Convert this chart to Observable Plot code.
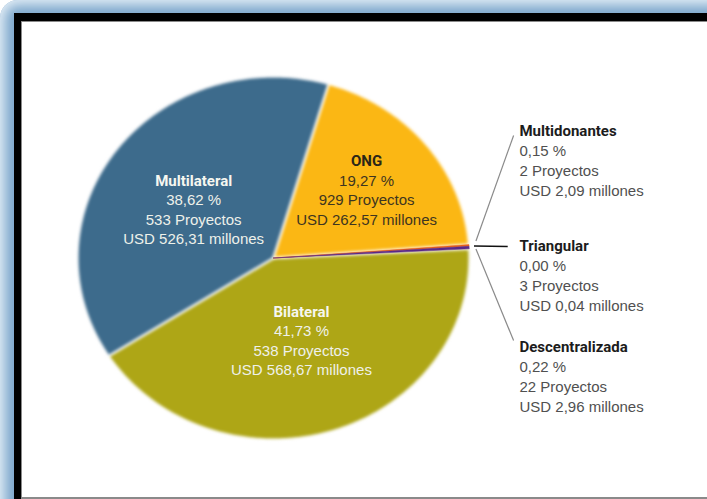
<!DOCTYPE html>
<html><head><meta charset="utf-8">
<script src="https://cdn.jsdelivr.net/npm/d3@7"></script>
<script src="https://cdn.jsdelivr.net/npm/@observablehq/plot@0.6"></script>
<style>
html,body{margin:0;padding:0;width:707px;height:499px;overflow:hidden;background:#fff}
#page{position:relative;width:707px;height:499px;overflow:hidden}
#blue{position:absolute;left:0;top:0;width:760px;height:560px;border-radius:18px;background:#7ea8cc;box-shadow:inset 0 0 12px 5px #e2edf6}
#black{position:absolute;left:14px;top:13px;width:760px;height:560px;background:#000}
#white{position:absolute;left:21px;top:21px;width:720px;height:475px;background:#fff;border-left:1px solid #8a8a8a;border-top:1px solid #8a8a8a;border-bottom:2px solid #8a8a8a}
#chart{position:absolute;left:22px;top:22px}
</style>
</head><body>
<div id="page"><div id="blue"></div><div id="black"></div><div id="white"></div><div id="chart"></div></div>
<script>
const categories = ["Bilateral", "Multilateral", "ONG", "Multidonantes", "Triangular", "Descentralizada"];
const percentages = [41.73, 38.62, 19.27, 0.15, 0.00, 0.22];
const projects = [538, 533, 929, 2, 3, 22];
const amounts = [568.67, 526.31, 262.57, 2.09, 0.04, 2.96];
const colors = ["#aea616", "#3d6b8c", "#fbb714", "#e8631c", "#222222", "#5a2a88"];

const rad = d => d * Math.PI / 180;
const startDeg = 87.1;
const pt = (a, r = 1) => ({x: r * Math.sin(a), y: -r * Math.cos(a)});
const fmt = v => v.toFixed(2).replace(".", ",");

const records = categories.map((c, i) => ({cat: c, pct: percentages[i], proj: projects[i], usd: amounts[i]}));
const arcs = d3.pie().sort(null).value(d => d.pct)
  .startAngle(rad(startDeg)).endAngle(rad(startDeg + 360))(records);

function slicePoints(list) {
  const out = [];
  for (const a of list) {
    if (a.endAngle - a.startAngle <= 0) continue;
    const n = Math.max(2, Math.ceil((a.endAngle - a.startAngle) / rad(0.5)));
    out.push({cat: a.data.cat, ...pt(0, 0)});
    for (let k = 0; k <= n; k++) {
      const ang = a.startAngle + (a.endAngle - a.startAngle) * k / n;
      out.push({cat: a.data.cat, ...pt(ang)});
    }
    out.push({cat: a.data.cat, ...pt(0, 0)});
  }
  return out;
}
const bigArcs = arcs.filter(a => a.data.pct >= 5);
const smallArcs = arcs.filter(a => a.data.pct < 5);
const bigPts = slicePoints(bigArcs);
const smallPts = slicePoints(smallArcs);

const linesOf = d => [d.cat, fmt(d.pct) + " %", d.proj + " Proyectos", "USD " + fmt(d.usd) + " millones"];

// label placement (layout): angular nudge (deg) and radius per slice rank
const nudge = [0.5, -4, 0.9];
const labelR = [0.48, 0.485, 0.603];
const inner = bigArcs.map((a, i) => {
  const mid = (a.startAngle + a.endAngle) / 2 + rad(nudge[i]);
  return {cat: a.data.cat, lines: linesOf(a.data), ...pt(mid, labelR[i])};
});
const innerLight = inner.filter(d => d.cat !== "ONG");
const innerDark = inner.filter(d => d.cat === "ONG");

const outsideX = 1.255;
const outsideY = [-0.697, -0.063, 0.493];
const outer = categories.slice(3).map((c, i) => {
  const d = records[3 + i];
  return {cat: c, lines: linesOf(d), x: outsideX, y: outsideY[i]};
});
const anchorA = d3.mean(smallArcs, a => (a.startAngle + a.endAngle) / 2);
const anchor = pt(anchorA, 1.035);
const startDy = [-0.028, 0, 0.016];
const endDy = [0.022, 0, -0.038];
const leaders = outer.map((d, i) => ({
  cat: d.cat,
  x1: i === 1 ? anchor.x - 0.01 : anchor.x, y1: anchor.y + startDy[i],
  x2: i === 1 ? d.x - 0.06 : d.x - 0.03, y2: d.y + endDy[i]
}));

const W = 685, H = 475;
const cx = 251, cy = 235.5, rx = 196, ry = 181.5;
const titleFont = "Roboto,'DejaVu Sans Condensed',sans-serif";
const bodyFont = "'Liberation Sans',Arial,sans-serif";

const textMarks = (data, fills, step, outside) => [0, 1, 2, 3].map(i => Plot.text(data, {
  x: "x", y: "y", text: d => d.lines[i],
  dy: outside ? i * step : (i - 1.5) * step,
  textAnchor: outside ? "start" : "middle",
  fill: i === 0 ? fills[0] : fills[1],
  fontFamily: i === 0 ? titleFont : bodyFont,
  fontWeight: i === 0 ? "bold" : "normal",
  fontSize: 15
}));

const chart = Plot.plot({
  width: W, height: H,
  margin: 0,
  x: {domain: [-1, 1], range: [cx - rx, cx + rx], axis: null},
  y: {domain: [-1, 1], range: [cy - ry, cy + ry], axis: null},
  color: {domain: categories, range: colors},
  style: {background: "transparent", overflow: "visible"},
  marks: [
    Plot.line(bigPts, {x: "x", y: "y", z: "cat", fill: "cat", stroke: "#ffffff", strokeWidth: 2.4, strokeOpacity: 0.85, curve: "linear"}),
    Plot.line(smallPts, {x: "x", y: "y", z: "cat", fill: "cat", stroke: "cat", strokeWidth: 0.5, curve: "linear"}),
    Plot.link(leaders.filter(d => d.cat !== "Triangular"), {x1: "x1", y1: "y1", x2: "x2", y2: "y2", stroke: "#8a8a8a", strokeWidth: 1.2}),
    Plot.link(leaders.filter(d => d.cat === "Triangular"), {x1: "x1", y1: "y1", x2: "x2", y2: "y2", stroke: "#111", strokeWidth: 1.6}),
    ...textMarks(innerLight, ["#f6f7f0", "#eef1ea"], 19.5, false),
    ...textMarks(innerDark, ["#2a2618", "#3e3520"], 19.5, false),
    ...textMarks(outer, ["#1c1c1c", "#505050"], 20, true)
  ]
});
const lineGroups = chart.querySelectorAll('g[aria-label="line"]');
if (lineGroups.length) lineGroups[0].style.filter = "blur(1.6px)";
document.getElementById("chart").appendChild(chart);
</script>
</body></html>
